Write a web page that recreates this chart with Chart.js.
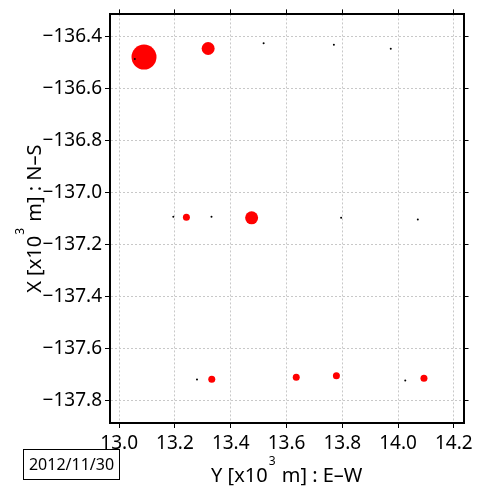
<!DOCTYPE html>
<html>
<head>
<meta charset="utf-8">
<script src="https://cdn.jsdelivr.net/npm/chart.js@4"></script>
<style>
  body { margin: 0; background: #fff; }
</style>
</head>
<body>
<canvas id="grafico" width="477" height="490"></canvas>
<script>
// E-W (Y) and N-S (X) positions in 10^3 m
const pontosVermelhosY = [13.089, 13.319, 13.241, 13.475, 13.332, 13.635, 13.779, 14.093];
const pontosVermelhosX = [-136.48, -136.447, -137.095, -137.097, -137.717, -137.709, -137.704, -137.713];
const pontosVermelhosTamanho = [12.5, 6.5, 3.5, 6.5, 3.5, 3.5, 3.5, 3.5];

const pontosPretosY = [13.056, 13.518, 13.77, 13.974, 13.194, 13.331, 13.796, 14.071, 13.279, 14.026];
const pontosPretosX = [-136.487, -136.427, -136.433, -136.448, -137.093, -137.093, -137.097, -137.104, -137.718, -137.722];

const ticksEW = [13.0, 13.2, 13.4, 13.6, 13.8, 14.0, 14.2];
const ticksNS = [-137.8, -137.6, -137.4, -137.2, -137.0, -136.8, -136.6, -136.4];

const dataLabel = "2012/11/30";
const fonte = "'Noto Sans', sans-serif";

function formatar(v) {
  return v.toFixed(1).replace("-", "\u2212");
}

function eixo(position, ticks, min, max, size, labels) {
  const horizontal = position === "top" || position === "bottom";
  return {
    type: "linear",
    position: position,
    min: min,
    max: max,
    afterBuildTicks: (scale) => {
      scale.ticks = ticks.map((v) => ({ value: v }));
    },
    afterFit: (scale) => {
      if (horizontal) scale.height = size;
      else scale.width = size;
    },
    grid: {
      display: true,
      drawOnChartArea: labels,
      color: "#c8c8c8",
      lineWidth: 1,
      drawTicks: true,
      tickLength: 5,
      tickColor: "#000",
      tickWidth: 1,
    },
    border: { display: true, color: "#000", width: 2, dash: [2, 2] },
    ticks: {
      display: labels,
      color: "#000",
      padding: horizontal ? 4 : 3,
      font: { family: fonte, size: 19 },
      callback: (v) => formatar(v),
      autoSkip: false,
      maxRotation: 0,
    },
  };
}

const textos = {
  id: "textos",
  afterDraw(chart) {
    const ctx = chart.ctx;
    const area = chart.chartArea;
    ctx.save();
    ctx.fillStyle = "#000";
    ctx.textBaseline = "alphabetic";

    function titulo(partes, cx, cy, rot) {
      ctx.save();
      ctx.translate(cx, cy);
      ctx.rotate(rot);
      let total = 0;
      partes.forEach((p) => {
        ctx.font = (p.sup ? 12 : 20) + "px " + fonte;
        total += ctx.measureText(p.t).width + (p.sup ? 2 : 0);
      });
      let x = -total / 2;
      partes.forEach((p) => {
        ctx.font = (p.sup ? 12 : 20) + "px " + fonte;
        ctx.textAlign = "left";
        ctx.fillText(p.t, x + (p.sup ? 1 : 0), p.sup ? -17 : 0);
        x += ctx.measureText(p.t).width + (p.sup ? 2 : 0);
      });
      ctx.restore();
    }

    titulo(
      [{ t: "Y [x10" }, { t: "3", sup: true }, { t: " m] : E\u2013W" }],
      (area.left + area.right) / 2, 482, 0
    );
    titulo(
      [{ t: "X [x10" }, { t: "3", sup: true }, { t: " m] : N\u2013S" }],
      41, (area.top + area.bottom) / 2, -Math.PI / 2
    );

    // caixa com a data
    ctx.strokeStyle = "#000";
    ctx.lineWidth = 1;
    ctx.strokeRect(23.5, 449.5, 96, 30);
    ctx.font = "16px " + fonte;
    ctx.textAlign = "center";
    ctx.textBaseline = "middle";
    ctx.fillText(dataLabel, 71.5, 465);
    ctx.restore();
  },
};

new Chart(document.getElementById("grafico"), {
  type: "bubble",
  data: {
    datasets: [
      {
        label: "pretos",
        data: pontosPretosY.map((y, i) => ({ x: y, y: pontosPretosX[i], r: 1 })),
        backgroundColor: "#000",
        borderWidth: 0,
        order: 0,
      },
      {
        label: "vermelhos",
        data: pontosVermelhosY.map((y, i) => ({ x: y, y: pontosVermelhosX[i], r: pontosVermelhosTamanho[i] })),
        backgroundColor: "#ff0000",
        borderWidth: 0,
        order: 1,
      },
    ],
  },
  options: {
    responsive: false,
    animation: false,
    layout: { padding: 0 },
    plugins: {
      legend: { display: false },
      tooltip: { enabled: false },
    },
    elements: { point: { hoverRadius: 0 } },
    scales: {
      x: eixo("bottom", ticksEW, 12.967, 14.235, 67, true),
      x2: eixo("top", ticksEW, 12.967, 14.235, 13, false),
      y: eixo("left", ticksNS, -137.885, -136.316, 110, true),
      y2: eixo("right", ticksNS, -137.885, -136.316, 12, false),
    },
  },
  plugins: [textos],
});
</script>
</body>
</html>
